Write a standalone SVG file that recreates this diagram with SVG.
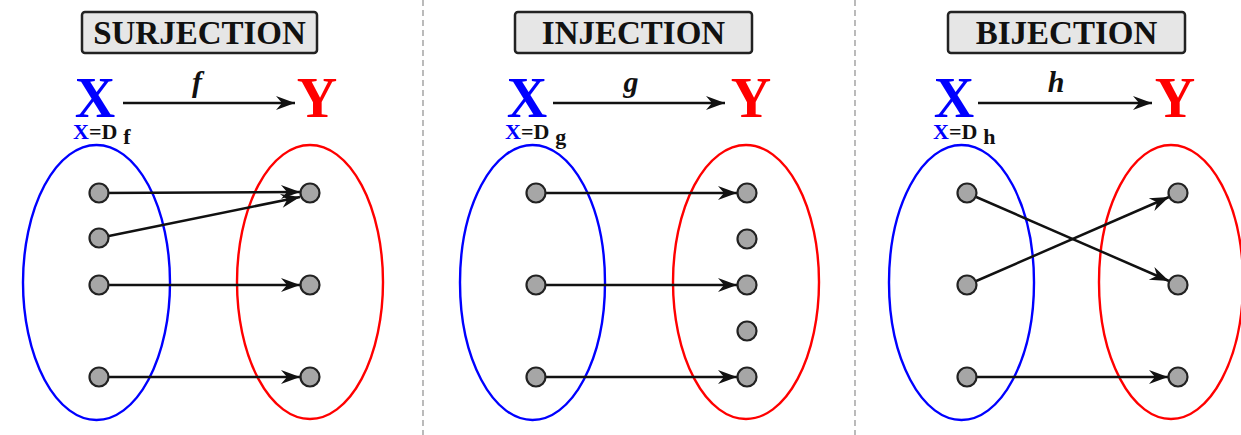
<svg xmlns="http://www.w3.org/2000/svg" width="1241" height="435" viewBox="0 0 1241 435">
<style>
.title{fill:#e6e6e6;stroke:#222;stroke-width:2.5}
.tt{font-family:"Liberation Serif",serif;font-weight:bold;font-size:33px;fill:#111;text-anchor:middle}
.bigX{font-family:"Liberation Serif",serif;font-weight:bold;font-size:56px;fill:#0000ff;text-anchor:middle}
.bigY{font-family:"Liberation Serif",serif;font-weight:bold;font-size:56px;fill:#ff0000;text-anchor:middle}
.fn{font-family:"Liberation Serif",serif;font-weight:bold;font-style:italic;font-size:30px;fill:#111;text-anchor:middle}
.dom{font-family:"Liberation Serif",serif;font-weight:bold;font-size:22px;fill:#111}
.setX{fill:none;stroke:#0000ff;stroke-width:2.4}
.setY{fill:none;stroke:#ff0000;stroke-width:2.4}
.dot{fill:#a6a6a6;stroke:#222;stroke-width:2.2}
.edge{stroke:#111;stroke-width:2.5;fill:none;marker-end:url(#ah)}
.hdr{stroke:#111;stroke-width:2.6;fill:none;marker-end:url(#ah)}
.sep{stroke:#aaa;stroke-width:1.6;stroke-dasharray:6 4}
</style>
<defs>
<marker id="ah" markerUnits="userSpaceOnUse" markerWidth="24" markerHeight="16" viewBox="-20 -8 22 16" refX="0" refY="0" orient="auto">
<path d="M0,0 L-19,-7 L-13,0 L-19,7 Z" fill="#111"/>
</marker>
</defs>
<rect width="1241" height="435" fill="#fff"/>
<g id="separators">
<line class="sep" x1="423" y1="0" x2="423" y2="435"/>
<line class="sep" x1="855" y1="0" x2="855" y2="435"/>
</g>
<g id="surjection">
<g id="surj-title"><rect class="title" x="82" y="12" width="235" height="41" rx="3"/><text class="tt" x="199.5" y="44">SURJECTION</text></g>
<text class="bigX" x="95" y="117">X</text>
<text class="bigY" x="317" y="117">Y</text>
<text class="fn" x="197" y="92">f</text>
<text class="dom" x="73" y="139"><tspan fill="#0000ff">X</tspan>=D<tspan dx="6" dy="5">f</tspan></text>
<ellipse id="surj-X" class="setX" cx="96.5" cy="282.5" rx="73.5" ry="137.5"/>
<ellipse id="surj-Y" class="setY" cx="310" cy="282" rx="73" ry="137"/>
</g>
<g id="injection">
<g id="inj-title"><rect class="title" x="515" y="12" width="237" height="41" rx="3"/><text class="tt" x="633.5" y="44">INJECTION</text></g>
<text class="bigX" x="527" y="117">X</text>
<text class="bigY" x="751" y="117">Y</text>
<text class="fn" x="631" y="92">g</text>
<text class="dom" x="505" y="139"><tspan fill="#0000ff">X</tspan>=D<tspan dx="6" dy="5">g</tspan></text>
<ellipse id="inj-X" class="setX" cx="532.5" cy="282.5" rx="72.5" ry="137.5"/>
<ellipse id="inj-Y" class="setY" cx="746" cy="282" rx="73" ry="137"/>
</g>
<g id="bijection">
<g id="bij-title"><rect class="title" x="948" y="12" width="237" height="41" rx="3"/><text class="tt" x="1066.5" y="44">BIJECTION</text></g>
<text class="bigX" x="954" y="117">X</text>
<text class="bigY" x="1175" y="117">Y</text>
<text class="fn" x="1056" y="92">h</text>
<text class="dom" x="933" y="139"><tspan fill="#0000ff">X</tspan>=D<tspan dx="6" dy="5">h</tspan></text>
<ellipse id="bij-X" class="setX" cx="961.5" cy="282.5" rx="72.5" ry="137.5"/>
<ellipse id="bij-Y" class="setY" cx="1171" cy="282" rx="72" ry="137"/>
</g>
<g id="connectors">
<line class="hdr" x1="123" y1="103" x2="295" y2="103"/>
<line class="hdr" x1="553" y1="103" x2="725" y2="103"/>
<line class="hdr" x1="978" y1="103" x2="1152" y2="103"/>
<line class="edge" x1="99" y1="193" x2="300" y2="192"/>
<line class="edge" x1="99" y1="238" x2="300" y2="197"/>
<line class="edge" x1="99" y1="285" x2="300" y2="285"/>
<line class="edge" x1="99" y1="377" x2="300" y2="377"/>
<line class="edge" x1="536" y1="193" x2="737" y2="193"/>
<line class="edge" x1="536" y1="285" x2="737" y2="285"/>
<line class="edge" x1="536" y1="377" x2="737" y2="377"/>
<line class="edge" x1="967" y1="193" x2="1169" y2="281"/>
<line class="edge" x1="967" y1="285" x2="1169" y2="197"/>
<line class="edge" x1="967" y1="377" x2="1168" y2="377"/>
</g>
<g id="dots">
<circle class="dot" cx="99" cy="193" r="9.5"/>
<circle class="dot" cx="99" cy="238" r="9.5"/>
<circle class="dot" cx="99" cy="285" r="9.5"/>
<circle class="dot" cx="99" cy="377" r="9.5"/>
<circle class="dot" cx="310" cy="193" r="9.5"/>
<circle class="dot" cx="310" cy="285" r="9.5"/>
<circle class="dot" cx="310" cy="377" r="9.5"/>
<circle class="dot" cx="536" cy="193" r="9.5"/>
<circle class="dot" cx="536" cy="285" r="9.5"/>
<circle class="dot" cx="536" cy="377" r="9.5"/>
<circle class="dot" cx="747" cy="193" r="9.5"/>
<circle class="dot" cx="747" cy="239" r="9.5"/>
<circle class="dot" cx="747" cy="285" r="9.5"/>
<circle class="dot" cx="747" cy="331" r="9.5"/>
<circle class="dot" cx="747" cy="377" r="9.5"/>
<circle class="dot" cx="967" cy="193" r="9.5"/>
<circle class="dot" cx="967" cy="285" r="9.5"/>
<circle class="dot" cx="967" cy="377" r="9.5"/>
<circle class="dot" cx="1178" cy="193" r="9.5"/>
<circle class="dot" cx="1178" cy="285" r="9.5"/>
<circle class="dot" cx="1178" cy="377" r="9.5"/>
</g>
</svg>
